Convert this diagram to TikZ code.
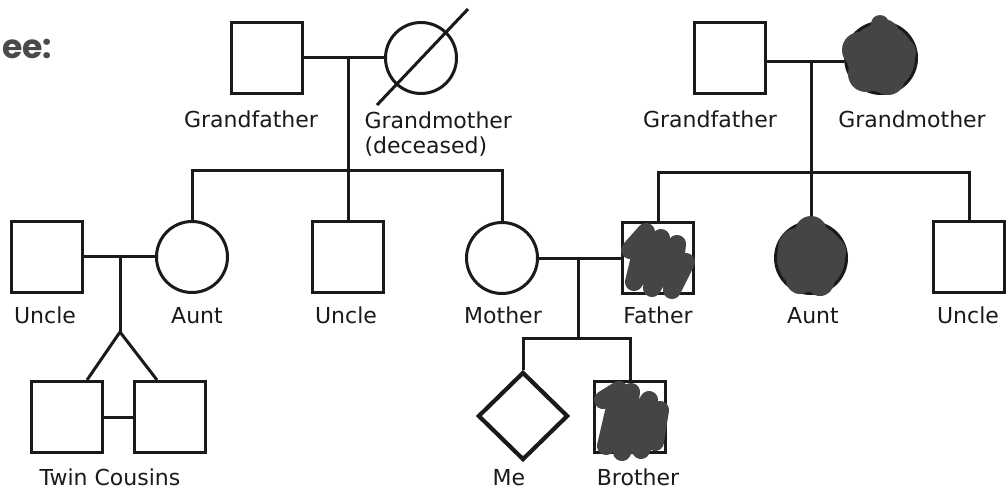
\documentclass[tikz,border=0pt]{standalone}
\usepackage{fontspec}
\setmainfont{DejaVu Sans}
\newfontfamily\titlefont{Poppins}
\usetikzlibrary{shapes.geometric}
\definecolor{ink}{HTML}{1A1A1A}
\definecolor{scrib}{HTML}{444547}
\definecolor{titlegray}{HTML}{4A4A4A}
\begin{document}
\begin{tikzpicture}[x=1pt,y=-1pt, line width=3pt, draw=ink,
  sq/.style={rectangle, draw=ink, line width=3pt, minimum size=71pt, inner sep=0pt},
  circ/.style={circle, draw=ink, line width=3pt, minimum size=71pt, inner sep=0pt},
  dia/.style={diamond, draw=ink, line width=4.2pt, minimum width=90pt, minimum height=88pt, inner sep=0pt},
  lbl/.style={anchor=base, inner sep=0pt, text=ink, font=\fontsize{22}{25}\selectfont},
  blob/.style={draw=scrib, line width=18pt, line cap=round, line join=round},
  link/.style={draw=ink, line width=3pt}]
\useasboundingbox (0,0) rectangle (1008,491);
\fill[white] (0,0) rectangle (1008,491);

% title (cropped in the reference)
\node[anchor=base west, inner sep=0pt, text=titlegray, font=\titlefont\bfseries\fontsize{33}{38}\selectfont] (title) at (0.5,58) {ee:};

% generation 1
\node[sq] (gf1) at (267,58) {};
\node[circ] (gm1) at (421,58) {};
\node[sq] (gf2) at (730,58) {};
\node[circ, fill=scrib] (gm2) at (881,58) {};

% generation 2
\node[sq] (uncleA) at (47,257) {};
\node[circ] (auntA) at (192,257) {};
\node[sq] (uncleB) at (348,257) {};
\node[circ] (mother) at (502,258) {};
\node[sq] (father) at (658,258) {};
\node[circ, fill=scrib] (auntB) at (811,258) {};
\node[sq] (uncleC) at (969,257) {};

% generation 3
\node[sq] (twin1) at (67,417) {};
\node[sq] (twin2) at (170,417) {};
\node[dia] (me) at (523,416) {};
\node[sq] (brother) at (630,417) {};

% deceased slash
\coordinate (sl1) at (377,105);
\coordinate (sl2) at (468,9);
\draw[link] (sl1) -- (sl2);

% left grandparents
\coordinate (m1) at (348,57);
\coordinate (s1) at (348,170);
\draw[link] (gf1.east |- m1) -- (gm1.west |- m1);
\draw[link] (m1) -- (s1) -- (uncleB.north);
\draw[link] (auntA.north) -- (auntA.north |- s1) -- (mother.north |- s1) -- (mother.north);

% right grandparents
\coordinate (m2) at (811,61);
\coordinate (s2) at (811,172);
\draw[link] (gf2.east |- m2) -- (gm2.west |- m2);
\draw[link] (m2) -- (s2) -- (auntB.north);
\draw[link] (father.north) -- (father.north |- s2) -- (uncleC.north |- s2) -- (uncleC.north);

% uncle + aunt -> twins
\coordinate (m3) at (120,256);
\coordinate (t1) at (120,332);
\draw[link] (uncleA.east |- m3) -- (auntA.west |- m3);
\draw[link] (m3) -- (t1);
\draw[link] (t1) -- ([xshift=20pt]twin1.north);
\draw[link] (t1) -- ([xshift=-13pt]twin2.north);
\draw[link] (twin1.east) -- (twin2.west);

% mother + father -> me, brother
\coordinate (m4) at (578,258);
\coordinate (s4) at (578,338);
\draw[link] (mother.east) -- (father.west);
\draw[link] (m4) -- (s4);
\draw[link] (me.north) -- (me.north |- s4) -- (brother.north |- s4) -- (brother.north);

% scribbles
\draw[blob] (630,250) -- (646,232) -- (634,282) -- (661,238) -- (652,288) -- (677,244) -- (672,290) -- (686,262);
\draw[blob] (603,400) -- (619,390) -- (606,446) -- (631,392) -- (622,452) -- (649,400) -- (641,450) -- (660,410) -- (655,442);
\fill[scrib] (860,50) circle (18pt) (883,36) circle (17pt) (902,52) circle (14pt) (866,74) circle (18pt) (888,78) circle (17pt) (880,24) circle (9pt);
\fill[scrib] (798,248) circle (20pt) (811,232) circle (16pt) (830,252) circle (16pt) (800,280) circle (14pt) (820,282) circle (14pt) (810,225) circle (9pt);

% labels
\node[lbl] (lgf1) at (251,127) {Grandfather};
\node[anchor=north west, inner sep=0pt, align=left, text=ink, font=\fontsize{22}{25}\selectfont] (lgm1) at (363,110) {Grandmother\\(deceased)};
\node[lbl] (lgf2) at (710,127) {Grandfather};
\node[lbl] (lgm2) at (912,127) {Grandmother};
\node[lbl] (luA) at (45,323) {Uncle};
\node[lbl] (laA) at (197,323) {Aunt};
\node[lbl] (luB) at (346,323) {Uncle};
\node[lbl] (lmo) at (503,323) {Mother};
\node[lbl] (lfa) at (658,323) {Father};
\node[lbl] (laB) at (813,323) {Aunt};
\node[lbl] (luC) at (968,323) {Uncle};
\node[lbl] (ltw) at (110,485) {Twin Cousins};
\node[lbl] (lme) at (509,485) {Me};
\node[lbl] (lbr) at (638,485) {Brother};
\end{tikzpicture}
\end{document}
